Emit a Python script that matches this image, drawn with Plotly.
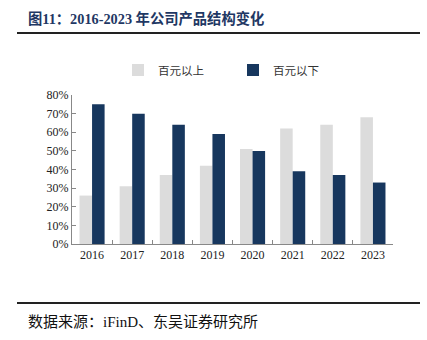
import plotly.graph_objects as go

years = ["2016", "2017", "2018", "2019", "2020", "2021", "2022", "2023"]
above_100 = [26, 31, 37, 42, 51, 62, 64, 68]
below_100 = [75, 70, 64, 59, 50, 39, 37, 33]
series_names = ["百元以上", "百元以下"]
y_ticks = [0, 10, 20, 30, 40, 50, 60, 70, 80]
y_tick_labels = [f"{v}%" for v in y_ticks]

W, H = 427, 340
L, R, T, B = 72, 393, 95, 244  # plot area in pixels

def px_x(px):
    return (px - L) / (R - L)

def px_y(py):
    return (B - py) / (B - T)

serif = "Liberation Serif, Noto Sans CJK SC, serif"

fig = go.Figure()
fig.add_trace(go.Bar(x=years, y=above_100, name=series_names[0],
                     marker=dict(color="#DCDCDC", line=dict(width=0))))
fig.add_trace(go.Bar(x=years, y=below_100, name=series_names[1],
                     marker=dict(color="#17375E", line=dict(width=0))))

fig.update_layout(
    width=W, height=H,
    margin=dict(l=L, r=W - R, t=T, b=H - B, pad=0),
    paper_bgcolor="white", plot_bgcolor="white",
    barmode="group", bargap=0.375, bargroupgap=0,
    showlegend=True,
    legend=dict(orientation="h", x=px_x(118), xanchor="left",
                y=px_y(70), yanchor="middle",
                font=dict(family="Noto Sans CJK SC, sans-serif", size=11.5, color="#333"),
                entrywidth=70, entrywidthmode="pixels",
                itemwidth=30, bgcolor="rgba(0,0,0,0)"),
    xaxis=dict(type="category", showline=True, linecolor="#888", linewidth=1,
               ticks="inside", ticklen=4, tickcolor="#888", tickson="boundaries",
               tickfont=dict(family=serif, size=12, color="#222"),
               showgrid=False, zeroline=False, fixedrange=True),
    yaxis=dict(range=[0, 80], tickvals=y_ticks, ticktext=y_tick_labels,
               showline=True, linecolor="#888", linewidth=1,
               ticks="inside", ticklen=4, tickcolor="#888",
               tickfont=dict(family=serif, size=12, color="#222"),
               showgrid=False, zeroline=False, fixedrange=True),
)

# header/footer rules
for py in (33, 303):
    fig.add_shape(type="line", xref="paper", yref="paper",
                  x0=px_x(17), x1=px_x(420), y0=px_y(py), y1=px_y(py),
                  line=dict(color="#222", width=2))

fig.add_annotation(text="<b>图11：2016-2023 年公司产品结构变化</b>",
                   xref="paper", yref="paper", x=px_x(26), y=px_y(18),
                   xanchor="left", yanchor="middle", showarrow=False,
                   font=dict(family=serif, size=14.3, color="#1F3864"))
fig.add_annotation(text="数据来源：iFinD、东吴证券研究所",
                   xref="paper", yref="paper", x=px_x(26), y=px_y(322),
                   xanchor="left", yanchor="middle", showarrow=False,
                   font=dict(family=serif, size=15, color="#111"))

fig.write_html("out.html", config={"displayModeBar": False})
